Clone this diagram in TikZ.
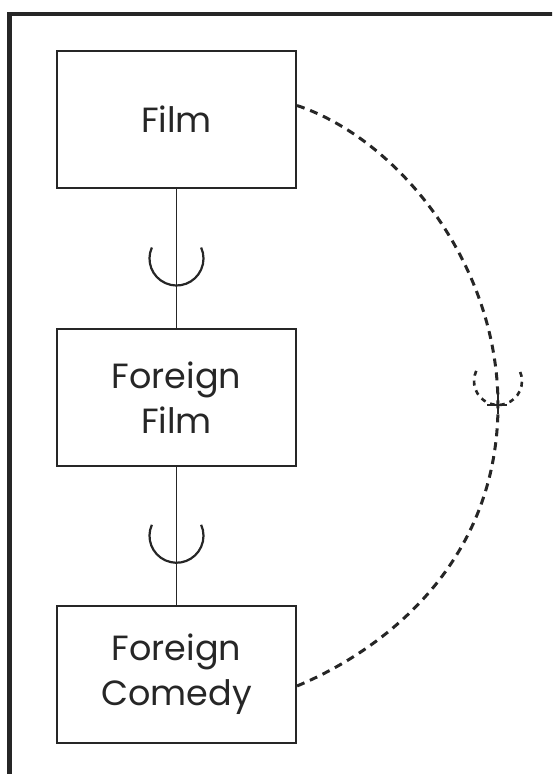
\documentclass[tikz,border=0pt]{standalone}
\usepackage{fontspec}
\setmainfont{Poppins}
\usepackage{xcolor}
\usepackage{tikz}
\usetikzlibrary{positioning, calc}

\definecolor{ink}{gray}{0.15}

\begin{document}
\begin{tikzpicture}[
        x=1pt, y=1pt,
        entity/.style={draw=ink, rectangle, line width=2pt, minimum width=239pt, minimum height=137pt, inner sep=0pt, align=center, text=ink, font=\fontsize{35}{45}\selectfont},
        link/.style={draw=ink, line width=1.6pt},
        cupline/.style={draw=ink, line width=2.2pt},
        maplink/.style={draw=ink, line width=3pt, dash pattern=on 8pt off 6pt},
        mapcup/.style={draw=ink, line width=2.6pt, dash pattern=on 5pt off 5pt}
    ]
    \useasboundingbox (0,0) rectangle (552,-774);
    \clip (0,0) rectangle (552,-774);

    % outer frame (only top and left edge visible)
    \draw[ink, line width=4.5pt] (9.5,-820) -- (9.5,-14) -- (620,-14);

    % --- Entities ---
    \node[entity] (film) at (176.5,-119.5) {Film};
    \node[entity] (foreignfilm) at (176.5,-397.5) {Foreign\\Film};
    \node[entity] (foreigncomedy) at (176.5,-674) {Foreign\\Comedy};

    % --- Subset links ---
    \draw[link] (film) -- coordinate[midway] (cupA) (foreignfilm);
    \draw[link] (foreignfilm) -- coordinate[midway] (cupB) (foreigncomedy);
    \draw[cupline] ([shift={(156:27)}]cupA) arc[start angle=156, end angle=384, radius=27];
    \draw[cupline] ([shift={(156:27)}]cupB) arc[start angle=156, end angle=384, radius=27];

    % --- Dashed mapping ---
    \coordinate (union) at (498,-405);
    \draw[maplink] ([yshift=14pt]film.east) .. controls (400,-140) and (498,-265) .. (union)
        .. controls (498,-560) and (388,-648) .. ([yshift=-12pt]foreigncomedy.east);
    \draw[mapcup] ([shift={(155:24)}]$(union)+(0,24)$) arc[start angle=155, end angle=385, radius=24];
    \draw[ink, line width=2.4pt] ([xshift=-11pt]union) -- ([xshift=9pt]union);
    \draw[ink, line width=2.4pt] ([yshift=11pt]union) -- ([yshift=-9pt]union);

\end{tikzpicture}
\end{document}
